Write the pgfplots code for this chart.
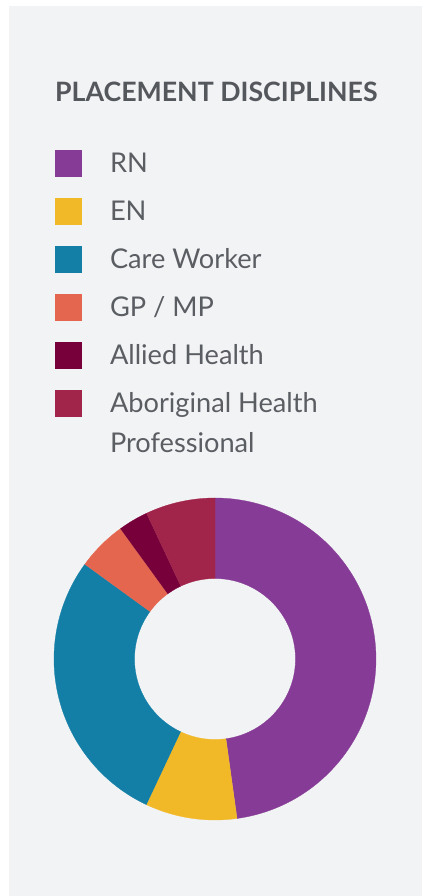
\documentclass[border=0pt]{standalone}
\usepackage{fontspec}
\setmainfont{Lato}
\usepackage{pgfplots}
\pgfplotsset{compat=1.18}
\definecolor{bgpanel}{HTML}{F2F3F5}
\definecolor{titlegray}{HTML}{54575C}
\definecolor{legendgray}{HTML}{5A5D62}
\definecolor{cRN}{HTML}{863C96}
\definecolor{cEN}{HTML}{F1B828}
\definecolor{cCW}{HTML}{137FA6}
\definecolor{cGP}{HTML}{E4664E}
\definecolor{cAH}{HTML}{77003A}
\definecolor{cAB}{HTML}{A1244A}
\begin{document}
\begin{tikzpicture}
\fill[white] (0,0) rectangle (422pt,896pt);
\fill[bgpanel] (9pt,0) rectangle (422pt,890pt);
\node[anchor=base west, inner sep=0pt, text=titlegray, font=\fontsize{26.7}{30}\selectfont\bfseries] at (55pt,794.8pt) {PLACEMENT DISCIPLINES};
\begin{axis}[
  at={(215pt,237pt)}, anchor=center,
  width=322pt, height=322pt, scale only axis,
  xmin=-1, xmax=1, ymin=-1, ymax=1,
  hide axis, clip=false,
  declare function={
    segang(\s,\p,\q)=3.6*ifthenelse(\s<1,\p+(\q-\p)*\s,ifthenelse(\s<2,\q,\q-(\q-\p)*(\s-2)));
    segrad(\s)=ifthenelse(\s<1,1,ifthenelse(\s<2,1-0.5*(\s-1),0.5));
  },
  variable=\t, domain=0:3, samples=301,
  legend image code/.code={
    \path[draw=none,fill=none] (0pt,-24pt) rectangle (55pt,24pt);
    \fill[#1,draw=none] (0pt,-4.5pt) rectangle (27pt,22.5pt);
  },
  legend style={
    at={(0.0031,2.0845)}, anchor=north west,
    draw=none, fill=none, inner sep=0pt, outer sep=0pt,
    row sep=0pt, column sep=0pt,
    cells={anchor=base west},
    nodes={inner sep=0pt, text=legendgray, font=\fontsize{27.2}{40}\selectfont},
  },
]
% cumulative boundaries in percent: RN 47.8, EN 9.2, Care Worker 28, GP/MP 5, Allied 3, Aboriginal 7
\addplot[fill=cRN, draw=cRN, line width=0.3pt] ({segrad(\t)*sin(segang(\t,0,47.8))},{segrad(\t)*cos(segang(\t,0,47.8))});
\addlegendentry{RN}
\addplot[fill=cEN, draw=cEN, line width=0.3pt] ({segrad(\t)*sin(segang(\t,47.8,57))},{segrad(\t)*cos(segang(\t,47.8,57))});
\addlegendentry{EN}
\addplot[fill=cCW, draw=cCW, line width=0.3pt] ({segrad(\t)*sin(segang(\t,57,85))},{segrad(\t)*cos(segang(\t,57,85))});
\addlegendentry{Care Worker}
\addplot[fill=cGP, draw=cGP, line width=0.3pt] ({segrad(\t)*sin(segang(\t,85,90))},{segrad(\t)*cos(segang(\t,85,90))});
\addlegendentry{GP / MP}
\addplot[fill=cAH, draw=cAH, line width=0.3pt] ({segrad(\t)*sin(segang(\t,90,93))},{segrad(\t)*cos(segang(\t,90,93))});
\addlegendentry{Allied Health}
\addplot[fill=cAB, draw=cAB, line width=0.3pt] ({segrad(\t)*sin(segang(\t,93,100))},{segrad(\t)*cos(segang(\t,93,100))});
\addlegendentry{\parbox[t]{250pt}{Aboriginal Health\\Professional}}
\end{axis}
\pgfresetboundingbox
\useasboundingbox (0,0) rectangle (422pt,896pt);
\end{tikzpicture}
\end{document}
